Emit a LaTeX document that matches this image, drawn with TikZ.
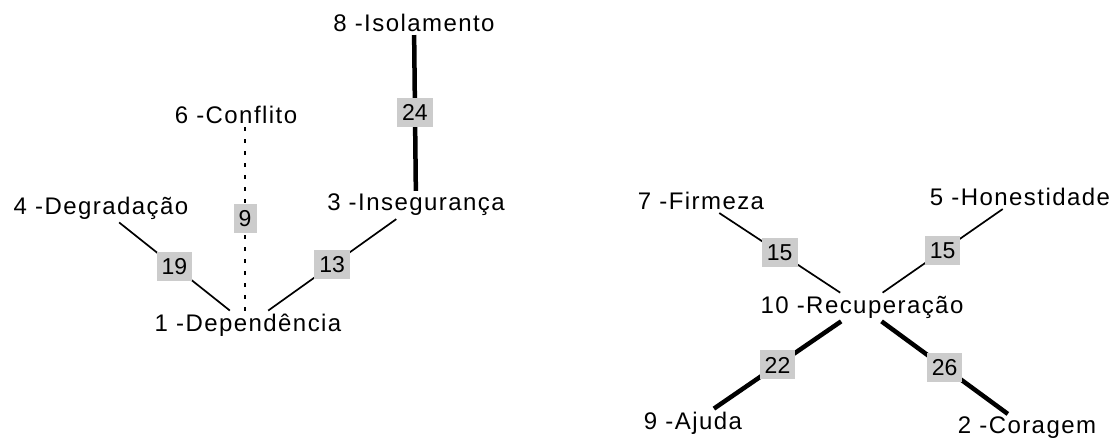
\documentclass[tikz,border=0pt]{standalone}
\usepackage{fontspec}
\setmainfont{Liberation Sans}[LetterSpace=6]
\newfontfamily\numfont{Liberation Sans}
\begin{document}
\begin{tikzpicture}[x=1pt,y=-1pt,
  lbl/.style={font=\fontsize{24}{27}\selectfont, inner sep=3pt},
  numbox/.style={fill=black!20, font=\numfont\fontsize{23}{25}\selectfont, inner xsep=5pt, inner ysep=3pt, minimum height=29pt, minimum width=23pt},
  lnthin/.style={line width=1.7pt},
  lnthick/.style={line width=4.5pt},
  lndot/.style={line width=1.7pt, dash pattern=on 4pt off 8pt}]
\useasboundingbox (0,0) rectangle (1115,440);
% left cluster
\node[lbl] (iso)  at (414,23)  {8 -Isolamento};
\node[lbl] (conf) at (236,115) {6 -Conflito};
\node[lbl] (deg)  at (101,208) {4 -Degradação};
\node[lbl] (inse) at (416,205) {3 -Insegurança};
\node[lbl] (dep)  at (248,325) {1 -Dependência};
% right cluster
\node[lbl] (firm) at (701,201) {7 -Firmeza};
\node[lbl] (hon)  at (1020,197) {5 -Honestidade};
\node[lbl] (rec)  at (862,307) {10 -Recuperação};
\node[lbl] (aju)  at (693,423) {9 -Ajuda};
\node[lbl] (cor)  at (1027,428) {2 -Coragem};
% connectors
\draw[lnthick] (iso) -- node[numbox]{24} (inse);
\draw[lndot] ([xshift=9pt]conf.south) -- node[numbox]{9} ([xshift=-3pt]dep.north);
\draw[lnthin] (deg) -- node[numbox]{19} (dep);
\draw[lnthin] (inse) -- node[numbox]{13} (dep);
\draw[lnthin] (firm) -- node[numbox]{15} (rec);
\draw[lnthin] (hon) -- node[numbox]{15} (rec);
\draw[lnthick] (rec) -- node[numbox]{22} (aju);
\draw[lnthick] (rec) -- node[numbox]{26} (cor);
\end{tikzpicture}
\end{document}
